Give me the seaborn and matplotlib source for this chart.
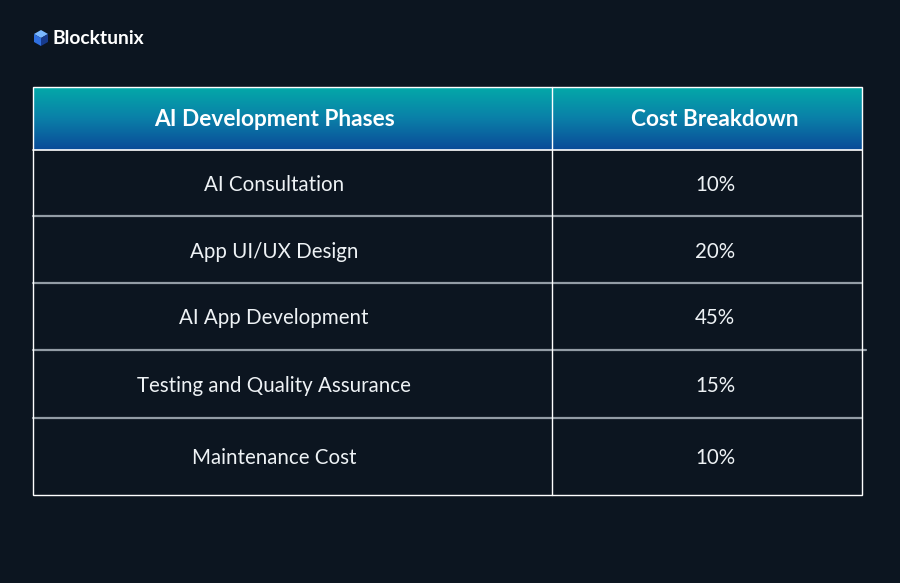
import numpy as np
import matplotlib
matplotlib.use("Agg")
import matplotlib.pyplot as plt
import seaborn as sns
from matplotlib.colors import LinearSegmentedColormap
from matplotlib.patches import Polygon, Rectangle

sns.set_theme(style="white")
plt.rcParams['font.family'] = ['Lato', 'DejaVu Sans']

# ---- data ----
headers = ["AI Development Phases", "Cost Breakdown"]
phases = ["AI Consultation", "App UI/UX Design", "AI App Development",
          "Testing and Quality Assurance", "Maintenance Cost"]
costs = [10, 20, 45, 15, 10]
brand = "Blocktunix"

BG = "#0c1520"
W, H = 900, 583
fig = plt.figure(figsize=(W / 100, H / 100), dpi=100, facecolor=BG)
ax = fig.add_axes([0, 0, 1, 1])
ax.set_xlim(0, W)
ax.set_ylim(H, 0)
ax.set_facecolor(BG)
ax.axis("off")

# table geometry (pixels)
x0, xm, x1 = 33, 552, 862
y_top, y_head = 87, 150
row_edges = [150, 216, 283, 350, 418, 495]
col_centers = [274, 715]

# header gradient
cmap = LinearSegmentedColormap.from_list("hdr", ["#04a9a9", "#0a7fa8", "#0b4a98"])
grad = np.linspace(0, 1, 256).reshape(-1, 1)
ax.imshow(grad, cmap=cmap, aspect="auto", extent=(x0, x1, y_head, y_top), zorder=1)

# header texts
for txt, xc in zip(headers, col_centers):
    ax.text(xc, (y_top + y_head) / 2 + 1, txt, color="white", fontsize=16.3,
            fontweight="bold", ha="center", va="center", zorder=3)

# rows
for i, (ph, c) in enumerate(zip(phases, costs)):
    yc = (row_edges[i] + row_edges[i + 1]) / 2 + 2
    ax.text(col_centers[0], yc, ph, color="#eef2f5", fontsize=14.8,
            ha="center", va="center", zorder=3)
    ax.text(col_centers[1], yc, f"{c}%", color="#eef2f5", fontsize=14.8,
            ha="center", va="center", zorder=3)

# inner horizontal lines (grey)
for j, y in enumerate(row_edges[1:-1]):
    xe = 866 if j == 2 else x1
    ax.plot([x0, xe], [y, y], color="#939ca5", lw=1.6, zorder=2)
# header bottom line
ax.plot([x0, x1], [y_head, y_head], color="white", lw=1.2, zorder=4)
# vertical divider
ax.plot([xm, xm], [y_top, row_edges[-1]], color="white", lw=1.0, zorder=4)
# outer border
ax.add_patch(Rectangle((x0, y_top), x1 - x0, row_edges[-1] - y_top, fill=False,
                       ec="white", lw=1.0, zorder=5))

# logo cube
cx, cy = 41, 38
top = Polygon([[cx - 7, cy - 4], [cx, cy - 8], [cx + 7, cy - 4], [cx, cy]], closed=True,
              fc="#7ab8ff", ec="none", zorder=5)
left = Polygon([[cx - 7, cy - 4], [cx, cy], [cx, cy + 8], [cx - 7, cy + 4]], closed=True,
               fc="#2f6fe0", ec="none", zorder=5)
right = Polygon([[cx, cy], [cx + 7, cy - 4], [cx + 7, cy + 4], [cx, cy + 8]], closed=True,
                fc="#173a8c", ec="none", zorder=5)
for p in (top, left, right):
    ax.add_patch(p)
ax.text(52, 39, brand, color="white", fontsize=13.9, fontweight="bold",
        ha="left", va="center", zorder=5)

fig.savefig("out.png", dpi=100, facecolor=BG)
